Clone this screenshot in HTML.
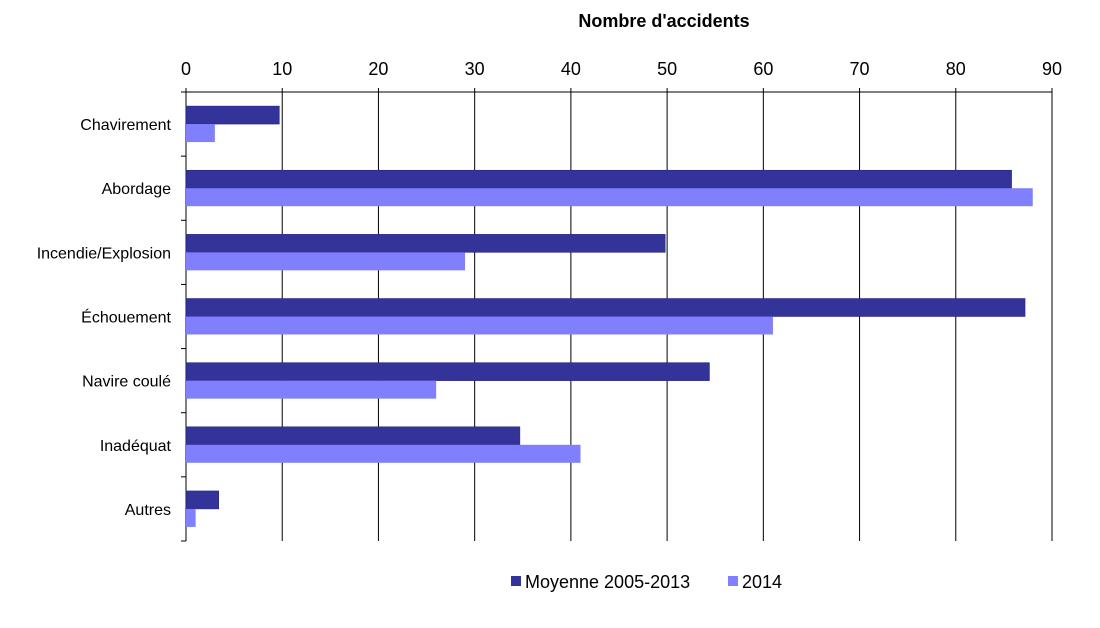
<!DOCTYPE html>
<html><head><meta charset="utf-8"><style>
body{margin:0;background:#fff;font-family:"Liberation Sans",Arial,sans-serif}
svg text{font-family:"Liberation Sans",Arial,sans-serif}
</style></head><body>
<svg id="chart" width="1100" height="623" xmlns="http://www.w3.org/2000/svg">
<text x="664" y="27" text-anchor="middle" font-size="18" font-weight="bold">Nombre d'accidents</text>
<g id="grid"></g><g id="bars"></g><g id="labels"></g>
<g>
<rect x="511" y="576" width="10" height="10" fill="#333399"/>
<text x="525" y="588" font-size="18">Moyenne 2005-2013</text>
<rect x="728" y="576" width="10" height="10" fill="#8080ff"/>
<text x="742" y="588" font-size="18">2014</text>
</g>
</svg>
<script>
const categories=["Chavirement","Abordage","Incendie/Explosion","Échouement","Navire coulé","Inadéquat","Autres"];
const moyenne=[9.7,85.8,49.8,87.2,54.4,34.7,3.4];
const y2014=[3,88,29,61,26,41,1];
const ticks=[0,10,20,30,40,50,60,70,80,90];
const NS="http://www.w3.org/2000/svg";
const x0=186,x1=1052,yTop=92,yBot=541,xmax=90;
const xs=v=>x0+(x1-x0)*v/xmax;
const band=(yBot-yTop)/categories.length;
function mk(t,a,p){const e=document.createElementNS(NS,t);for(const k in a)e.setAttribute(k,a[k]);p.appendChild(e);return e;}
const g=document.getElementById('grid'),b=document.getElementById('bars'),l=document.getElementById('labels');
ticks.forEach(t=>{
 const ln=mk('line',{x1:xs(t),x2:xs(t),y1:yTop-4,y2:yBot,stroke:'#000','stroke-width':1},g);
 
 
 const tx=mk('text',{x:xs(t),y:75,'text-anchor':'middle','font-size':18},l);tx.textContent=t;
 
 
});
const ax=mk('line',{x1:x0,x2:x1,y1:yTop,y2:yTop,stroke:'#000'},g);


const ay=mk('line',{x1:x0,x2:x0,y1:yTop,y2:yBot,stroke:'#000'},g);


for(let i=0;i<=categories.length;i++){
 const tk=mk('line',{x1:x0-5,x2:x0,y1:yTop+i*band,y2:yTop+i*band,stroke:'#000'},g);
 
 
}
categories.forEach((c,i)=>{
 const cy=yTop+band*(i+0.5);
 const r1=mk('rect',{x:x0,y:cy-18,width:xs(moyenne[i])-x0,height:18,fill:'#333399',stroke:'#1f1f7a','stroke-width':0.5},b);
 
 
 const r2=mk('rect',{x:x0,y:cy,width:xs(y2014[i])-x0,height:18,fill:'#8080ff'},b);
 
 
 const t=mk('text',{x:171,y:cy+6,'text-anchor':'end','font-size':16},l);t.textContent=c;
 
 
});
</script>
</body></html>
